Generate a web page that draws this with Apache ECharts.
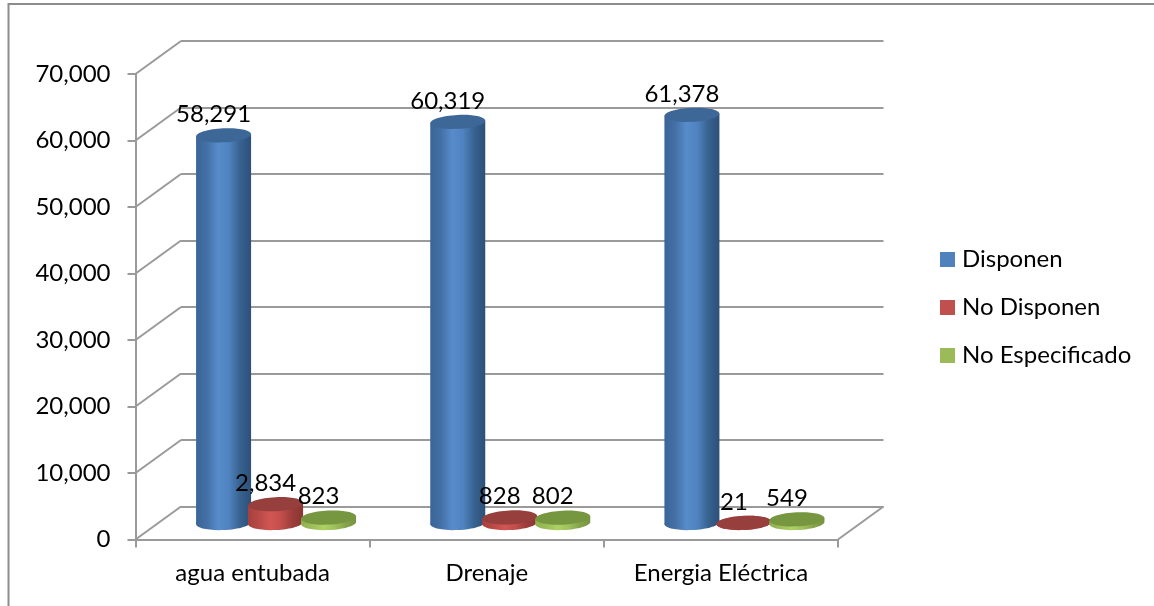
<!DOCTYPE html>
<html><head><meta charset="utf-8">
<style>html,body{margin:0;padding:0;background:#fff}#c{width:1154px;height:606px}</style>
<script src="https://cdn.jsdelivr.net/npm/echarts@6/dist/echarts.min.js"></script>
</head><body><div id="c"></div>
<script>
const categories = ['agua entubada', 'Drenaje', 'Energia Eléctrica'];
const disponen = [58291, 60319, 61378];
const noDisponen = [2834, 828, 21];
const noEspecificado = [823, 802, 549];
const seriesNames = ['Disponen', 'No Disponen', 'No Especificado'];
const axisTicks = [0, 10000, 20000, 30000, 40000, 50000, 60000, 70000];

const FONT = 'Lato';
const FS = 24;
const GRID = '#9a9a9a';
const DEPTH_X = 45.5, DEPTH_Y = 33;
const RX = 27.5, RY = 7, TILT = 0.05;
const palette = [
  {legend:'#4f81bd', top:'#3d6796', stops:['#3a6598','#4470a6','#578ccb','#4f82bf','#38628f','#2c5079']},
  {legend:'#c0504d', top:'#963f3c', stops:['#a8403d','#b84a47','#d25653','#c24e4b','#9c3d3a','#8a3533']},
  {legend:'#9bbb59', top:'#779640', stops:['#8fb04e','#9cbd58','#aed165','#9fc05c','#86a44a','#789340']}
];
const barOffsets = [-29, 23, 76];

function cylinder(seriesIdx) {
  return function (params, api) {
    const c = api.coord([api.value(0), api.value(1)]);
    const base = api.coord([api.value(0), 0]);
    const cx = c[0] + barOffsets[seriesIdx];
    const topY = c[1] - DEPTH_Y / 2;
    const botY = base[1] - DEPTH_Y / 2;
    const d = RX * Math.sin(TILT);
    const p = palette[seriesIdx];
    const n = p.stops.length - 1;
    const fill = {type:'linear', x:0, y:0, x2:1, y2:0,
      colorStops: p.stops.map((color, i) => ({offset:i / n, color}))};
    return {type:'group', children:[
      {type:'ellipse', originX:cx, originY:botY, rotation:TILT,
        shape:{cx, cy:botY, rx:RX, ry:RY}, style:{fill}},
      {type:'polygon', shape:{points:[[cx - RX, topY + d], [cx + RX, topY - d], [cx + RX, botY - d], [cx - RX, botY + d]]},
        style:{fill}},
      {type:'ellipse', originX:cx, originY:topY, rotation:TILT,
        shape:{cx, cy:topY, rx:RX, ry:RY}, style:{fill:p.top}},
      {type:'text', style:{text:api.value(1).toLocaleString('en-US'), x:cx - 10, y:topY - 21,
        align:'center', verticalAlign:'middle', font:FS + 'px ' + FONT, fill:'#000'}}
    ]};
  };
}
function cylSeries(i, values) {
  return {name:seriesNames[i], type:'custom', xAxisIndex:0, yAxisIndex:0, clip:false, z:5,
    itemStyle:{color:palette[i].legend}, encode:{x:0, y:1},
    data:values.map((v, k) => [k, v]), renderItem:cylinder(i)};
}
const chart = echarts.init(document.getElementById('c'), null, {renderer:'canvas'});
chart.setOption({
  animation:false,
  backgroundColor:'#fff',
  textStyle:{fontFamily:FONT},
  graphic:[{type:'rect', z:-1, shape:{x:8.5, y:4, width:1200, height:660},
    style:{fill:'#fff', stroke:'#8c8c8c', lineWidth:2}}],
  legend:{left:940, top:247.5, padding:0, orient:'vertical', itemWidth:15, itemHeight:15, itemGap:24, icon:'rect',
    data:seriesNames, selectedMode:false,
    textStyle:{fontFamily:FONT, fontSize:FS, lineHeight:24, color:'#000', padding:[0,0,0,2]}},
  grid:[
    {left:135.5, top:74, width:702.5, height:465.5},
    {left:135.5 + DEPTH_X, top:74 - DEPTH_Y, width:702.5, height:465.5}
  ],
  xAxis:[
    {gridIndex:0, type:'category', data:categories, boundaryGap:true,
      axisLine:{lineStyle:{color:GRID, width:2}},
      axisTick:{show:true, length:8, alignWithLabel:false, lineStyle:{color:GRID, width:2}},
      axisLabel:{margin:22, fontFamily:FONT, fontSize:FS, color:'#000', interval:0},
      splitLine:{show:false}},
    {gridIndex:1, type:'category', data:categories, show:false}
  ],
  yAxis:[
    {gridIndex:0, type:'value', min:0, max:70000, interval:10000,
      axisLine:{show:true, lineStyle:{color:GRID, width:2}},
      axisTick:{show:true, length:8, lineStyle:{color:GRID, width:2}},
      axisLabel:{margin:25, fontFamily:FONT, fontSize:FS, color:'#000',
        formatter:v => v.toLocaleString('en-US')},
      splitLine:{show:false}},
    {gridIndex:1, type:'value', min:0, max:70000, interval:10000,
      axisLine:{show:false}, axisTick:{show:false}, axisLabel:{show:false},
      splitLine:{show:true, lineStyle:{color:GRID, width:2}}}
  ],
  series:[
    {type:'custom', xAxisIndex:0, yAxisIndex:0, clip:false, z:1, silent:true, encode:{x:0, y:1},
      data:axisTicks.map(t => [0, t]),
      renderItem:function (params, api) {
        const v = api.value(1);
        const bandW = api.size([1, 0])[0];
        const c = api.coord([0, v]);
        const x0 = c[0] - bandW / 2;
        const lines = [{type:'line', shape:{x1:x0, y1:c[1], x2:x0 + DEPTH_X, y2:c[1] - DEPTH_Y},
          style:{stroke:GRID, lineWidth:2}}];
        if (v === 0) {
          const xr = x0 + bandW * categories.length;
          lines.push({type:'line', shape:{x1:xr, y1:c[1], x2:xr + DEPTH_X, y2:c[1] - DEPTH_Y},
            style:{stroke:GRID, lineWidth:2}});
        }
        return {type:'group', children:lines};
      }},
    cylSeries(0, disponen),
    cylSeries(1, noDisponen),
    cylSeries(2, noEspecificado)
  ]
});
</script></body></html>
